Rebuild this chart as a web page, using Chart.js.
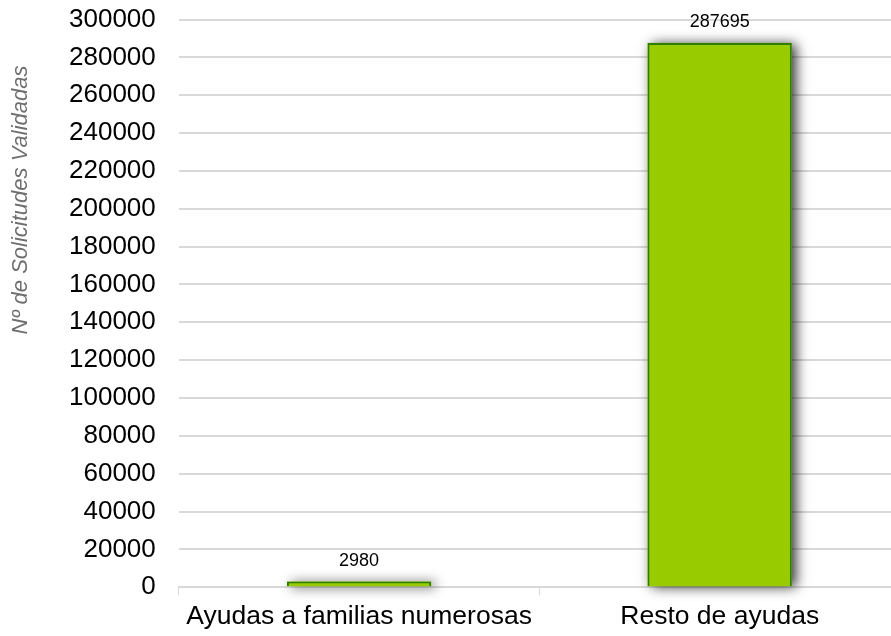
<!DOCTYPE html>
<html>
<head>
<meta charset="utf-8">
<script src="https://cdn.jsdelivr.net/npm/chart.js@4"></script>
<style>
html,body{margin:0;padding:0;background:#fff;overflow:hidden;}
#wrap{width:891px;height:636px;position:relative;overflow:hidden;}
#c{position:absolute;left:0;top:-19px;}
</style>
</head>
<body>
<div id="wrap"><canvas id="c" width="900" height="658"></canvas></div>
<script>
const categories = ["Ayudas a familias numerosas", "Resto de ayudas"];
const solicitudes = [2980, 287695];
const yTitle = "Nº de Solicitudes Validadas";
const yMax = 300000;
const yStep = 20000;

const FONT = "'Liberation Sans', Arial, sans-serif";

const shadowPlugin = {
  id: 'shadowBars',
  beforeDatasetDraw(chart, args) {
    const ctx = chart.ctx;
    const meta = args.meta;
    ctx.save();
    ctx.shadowColor = 'rgba(0,0,0,0.8)';
    ctx.shadowBlur = 12;
    ctx.shadowOffsetX = 4;
    ctx.shadowOffsetY = 1;
    ctx.fillStyle = '#99CC00';
    meta.data.forEach(bar => {
      const p = bar.getProps(['x', 'y', 'base', 'width'], true);
      const top = Math.min(p.y, p.base), h = Math.abs(p.base - p.y);
      ctx.fillRect(p.x - p.width / 2, top, p.width, h);
    });
    ctx.restore();
  }
};

const labelPlugin = {
  id: 'valueLabels',
  afterDatasetsDraw(chart) {
    const ctx = chart.ctx;
    const meta = chart.getDatasetMeta(0);
    ctx.save();
    ctx.font = "18px " + FONT;
    ctx.fillStyle = '#000';
    ctx.textAlign = 'center';
    ctx.textBaseline = 'bottom';
    meta.data.forEach((bar, i) => {
      ctx.fillText(String(chart.data.datasets[0].data[i]), bar.x, bar.y - 12);
    });
    ctx.restore();
  }
};

const titlePlugin = {
  id: 'yTitle',
  afterDraw(chart) {
    const ctx = chart.ctx;
    ctx.save();
    ctx.translate(21, 219);
    ctx.rotate(-Math.PI / 2);
    ctx.font = "italic 22px " + FONT;
    ctx.fillStyle = '#6e6e6e';
    ctx.textAlign = 'center';
    ctx.textBaseline = 'middle';
    ctx.fillText(yTitle, 0, 0);
    ctx.restore();
  }
};

new Chart(document.getElementById('c'), {
  type: 'bar',
  data: {
    labels: categories,
    datasets: [{
      data: solicitudes,
      backgroundColor: '#99CC00',
      borderColor: '#2E7D0A',
      borderWidth: 2,
      barPercentage: 0.4,
      categoryPercentage: 1.0
    }]
  },
  plugins: [shadowPlugin, labelPlugin, titlePlugin],
  options: {
    responsive: false,
    animation: false,
    devicePixelRatio: 1,
    layout: { padding: { left: 46, top: 0, right: 0, bottom: 0 } },
    plugins: { legend: { display: false }, tooltip: { enabled: false } },
    scales: {
      x: {
        grid: { display: true, drawOnChartArea: false, drawTicks: true, tickLength: 8, color: '#d9d9d9', offset: true },
        border: { color: '#d9d9d9', width: 2 },
        ticks: { color: '#000', font: { family: FONT, size: 26.5 }, padding: 6 }
      },
      y: {
        min: 0, max: yMax,
        grid: { color: '#d9d9d9', lineWidth: 2, drawTicks: false },
        border: { display: false },
        ticks: { stepSize: yStep, color: '#000', font: { family: FONT, size: 26 }, padding: 23,
                 callback: v => String(v) }
      }
    }
  }
});
</script>
</body>
</html>
